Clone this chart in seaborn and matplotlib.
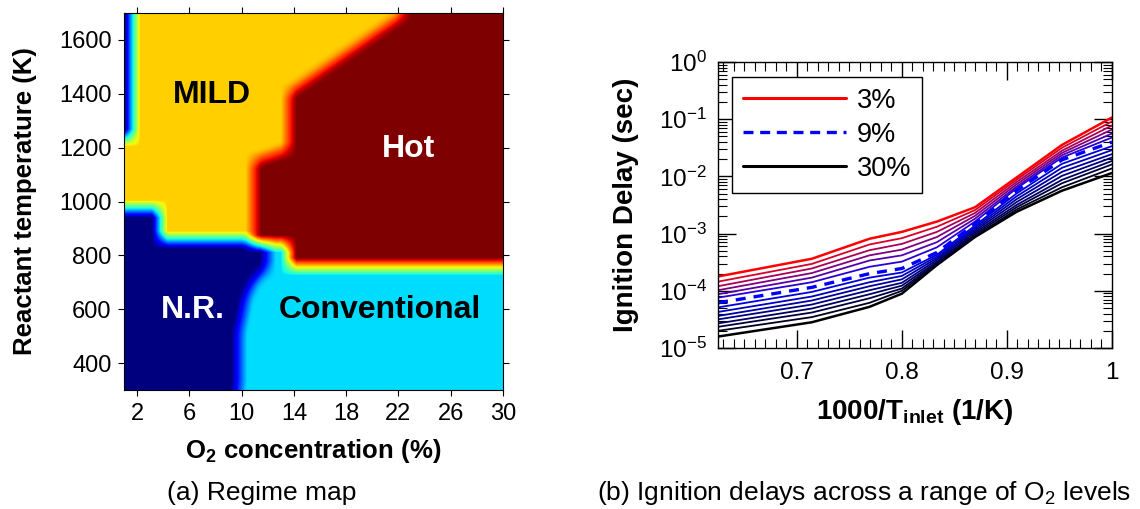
import numpy as np
import pandas as pd
import matplotlib
matplotlib.use("Agg")
import matplotlib.pyplot as plt
import seaborn as sns
from matplotlib.lines import Line2D
from matplotlib.ticker import MultipleLocator, LogLocator, NullFormatter, FuncFormatter

sns.set_style("ticks", {"axes.edgecolor": "black", "xtick.color": "black",
                        "ytick.color": "black", "text.color": "black",
                        "axes.labelcolor": "black"})
plt.rcParams["font.family"] = ["Liberation Sans", "DejaVu Sans"]
plt.rcParams["mathtext.fontset"] = "custom"
plt.rcParams["mathtext.rm"] = "Liberation Sans"
plt.rcParams["mathtext.bf"] = "Liberation Sans:bold"
plt.rcParams["mathtext.it"] = "Liberation Sans:italic"

# ---------------- (a) regime map ----------------
o2_range = (1, 30)
t_range = (300, 1700)

# ignition temperature (K) steps with O2 (%): level i holds below break i
ign_o2_breaks = [3.6, 10.6, 13.5]
ign_t_levels = [975, 860, 845, 760]
# N.R. / Conventional border below ignition: O2 (%) at each temperature
nr_t = [300, 520, 640, 700, 760, 900]
nr_o2 = [9.7, 9.8, 10.3, 10.9, 12.0, 12.0]
# MILD / Hot border above ignition: O2 (%) at each temperature
hot_t = [800, 1150, 1195, 1405, 1700]
hot_o2 = [10.9, 10.9, 13.6, 13.6, 22.4]
# thin non-reacting strip at the lowest O2 level
strip_o2 = 1.55
strip_t = 1235

regime_value = {"N.R.": 0.0, "Conventional": 0.34, "MILD": 0.69, "Hot": 1.0}

o2_grid = np.linspace(o2_range[0], o2_range[1], 291)
t_grid = np.linspace(t_range[0], t_range[1], 281)
O2, T = np.meshgrid(o2_grid, t_grid)
t_ign = np.array(ign_t_levels)[np.searchsorted(ign_o2_breaks, O2)]
nr_edge = np.interp(T, nr_t, nr_o2)
hot_edge = np.interp(T, hot_t, hot_o2)
regime = np.where(T < t_ign,
                  np.where(O2 < nr_edge, regime_value["N.R."], regime_value["Conventional"]),
                  np.where(O2 < hot_edge, regime_value["MILD"], regime_value["Hot"]))
regime = np.where((O2 < strip_o2) & (T > strip_t), regime_value["N.R."], regime)


def box_blur(a, n, axis):
    # smooth the borders the way interpolated shading does
    pad = [(0, 0), (0, 0)]
    pad[axis] = (n // 2, n - 1 - n // 2)
    ap = np.pad(a, pad, mode="edge")
    k = np.ones(n) / n
    return np.apply_along_axis(lambda m: np.convolve(m, k, mode="valid"), axis, ap)


regime_smooth = box_blur(box_blur(regime, 12, 1), 13, 0)

# ---------------- (b) ignition delays ----------------
t_inlet = [1600, 1400, 1300, 1250, 1200, 1150, 1100, 1050, 1000]
# log10 of ignition delay (s) for each O2 level (%)
log_delay_03 = [-3.75, -3.44, -3.09, -2.97, -2.79, -2.54, -2.02, -1.45, -0.97]
log_delay_04 = [-3.84, -3.53, -3.19, -3.08, -2.88, -2.59, -2.06, -1.50, -1.04]
log_delay_05 = [-3.92, -3.61, -3.29, -3.18, -2.97, -2.64, -2.10, -1.55, -1.11]
log_delay_06 = [-3.99, -3.69, -3.38, -3.28, -3.06, -2.69, -2.14, -1.59, -1.18]
log_delay_07 = [-4.06, -3.77, -3.47, -3.38, -3.15, -2.74, -2.18, -1.63, -1.25]
log_delay_08 = [-4.12, -3.85, -3.58, -3.49, -3.24, -2.79, -2.21, -1.67, -1.32]
log_delay_09 = [-4.21, -3.94, -3.70, -3.61, -3.33, -2.83, -2.25, -1.71, -1.40]
log_delay_10 = [-4.29, -4.02, -3.77, -3.68, -3.37, -2.86, -2.30, -1.78, -1.47]
log_delay_12 = [-4.37, -4.10, -3.85, -3.74, -3.40, -2.89, -2.35, -1.85, -1.54]
log_delay_14 = [-4.44, -4.17, -3.92, -3.80, -3.43, -2.92, -2.40, -1.92, -1.61]
log_delay_16 = [-4.50, -4.24, -3.99, -3.86, -3.46, -2.95, -2.45, -1.99, -1.67]
log_delay_18 = [-4.57, -4.31, -4.06, -3.91, -3.49, -2.98, -2.50, -2.06, -1.73]
log_delay_20 = [-4.63, -4.38, -4.13, -3.96, -3.51, -3.01, -2.54, -2.12, -1.79]
log_delay_25 = [-4.70, -4.46, -4.21, -4.00, -3.53, -3.04, -2.58, -2.19, -1.86]
log_delay_30 = [-4.80, -4.55, -4.28, -4.05, -3.55, -3.06, -2.62, -2.25, -1.94]

o2_series = [3, 4, 5, 6, 7, 8, 9, 10, 12, 14, 16, 18, 20, 25, 30]
log_delays = [log_delay_03, log_delay_04, log_delay_05, log_delay_06, log_delay_07,
              log_delay_08, log_delay_09, log_delay_10, log_delay_12, log_delay_14,
              log_delay_16, log_delay_18, log_delay_20, log_delay_25, log_delay_30]

rows = []
for o2, vals in zip(o2_series, log_delays):
    for t, v in zip(t_inlet, vals):
        rows.append({"o2": o2, "inv_t": 1000.0 / t, "delay": 10.0 ** v})
df = pd.DataFrame(rows)

# colours: red -> blue for 3..9 %, blue -> black for 9..30 %
red, blue, black = np.array([1, 0, 0]), np.array([0, 0, 1]), np.array([0, 0, 0])
colors = {}
low = [o for o in o2_series if o <= 9]
high = [o for o in o2_series if o >= 9]
for k, o in enumerate(low):
    f = k / (len(low) - 1)
    colors[o] = tuple((1 - f) * red + f * blue)
for k, o in enumerate(high):
    f = k / (len(high) - 1)
    colors[o] = tuple((1 - f) * blue + f * black)

# ---------------- figure ----------------
fig = plt.figure(figsize=(11.4, 5.09), dpi=100)
ax1 = fig.add_axes([124 / 1140, 1 - 390 / 509, 379 / 1140, 377 / 509])
ax2 = fig.add_axes([718 / 1140, 1 - 348 / 509, 394 / 1140, 286 / 509])

ax1.imshow(regime_smooth, origin="lower", cmap="jet", vmin=0, vmax=1, aspect="auto",
           extent=(o2_range[0], o2_range[1], t_range[0], t_range[1]),
           interpolation="bilinear", interpolation_stage="data")
ax1.set_xlim(*o2_range)
ax1.set_ylim(*t_range)
ax1.set_xticks([2, 6, 10, 14, 18, 22, 26, 30])
ax1.set_yticks([400, 600, 800, 1000, 1200, 1400, 1600])
ax1.tick_params(direction="out", length=4, width=0.8, top=True, right=True,
                labelsize=17, pad=5)
for s in ax1.spines.values():
    s.set_linewidth(0.8)
ax1.set_xlabel(r"O$_{\mathbf{2}}$ concentration (%)", fontsize=18.5, fontweight="bold")
ax1.set_ylabel("Reactant temperature (K)", fontsize=18.5, fontweight="bold")
ax1.xaxis.set_label_coords(0.5, -0.125)
ax1.yaxis.set_label_coords(-0.23, 0.5)

lab = dict(ha="center", va="center", fontsize=23, fontweight="bold")
ax1.text(7.75, 1396, "MILD", color="black", **lab)
ax1.text(22.8, 1195, "Hot", color="white", **lab)
ax1.text(6.3, 598, "N.R.", color="white", **lab)
ax1.text(20.6, 598, "Conventional", color="black", **lab)

# right panel lines
ax2.set_yscale("log")
draw_order = [4, 5, 6, 7, 8, 30, 25, 20, 18, 16, 14, 12, 10, 3, 9]
for o2 in draw_order:
    sub = df[df["o2"] == o2]
    if o2 == 9:
        sns.lineplot(data=sub, x="inv_t", y="delay", ax=ax2, color=colors[o2],
                     lw=2.4, linestyle=(0, (3.0, 2.4)))
    else:
        lw = 1.8 if o2 in (3, 30) else 1.3
        sns.lineplot(data=sub, x="inv_t", y="delay", ax=ax2, color=colors[o2], lw=lw)

ax2.set_xlim(1000 / 1600, 1.0)
ax2.set_ylim(1e-5, 1e0)
ax2.set_xticks([0.7, 0.8, 0.9, 1.0])
ax2.xaxis.set_major_formatter(FuncFormatter(lambda v, p: f"{v:g}"))
ax2.xaxis.set_minor_locator(MultipleLocator(0.01))
ax2.yaxis.set_major_locator(LogLocator(base=10, numticks=10))
ax2.yaxis.set_minor_locator(LogLocator(base=10, subs=np.arange(2, 10), numticks=10))
ax2.yaxis.set_minor_formatter(NullFormatter())
ax2.tick_params(which="major", direction="in", length=13, width=1.0, top=True, right=True,
                labelsize=17.5)
ax2.tick_params(which="minor", direction="in", length=6.5, width=0.8, top=True, right=True)
ax2.tick_params(axis="x", which="major", pad=10)
ax2.tick_params(axis="y", which="major", pad=8)
for s in ax2.spines.values():
    s.set_linewidth(1.0)
ax2.set_xlabel(r"1000/T$_{\mathbf{inlet}}$ (1/K)", fontsize=20, fontweight="bold")
ax2.set_ylabel("Ignition Delay (sec)", fontsize=20, fontweight="bold")
ax2.xaxis.set_label_coords(0.5, -0.17)
ax2.yaxis.set_label_coords(-0.20, 0.5)

handles = [Line2D([], [], color=colors[3], lw=2.2),
           Line2D([], [], color=colors[9], lw=2.4, linestyle=(0, (3.0, 2.0))),
           Line2D([], [], color=colors[30], lw=2.2)]
leg = ax2.legend(handles, ["3%", "9%", "30%"], loc="upper left",
                 bbox_to_anchor=(0.036, 0.948), borderaxespad=0, fontsize=19.5,
                 frameon=True, fancybox=False, edgecolor="black", framealpha=1,
                 handlelength=3.8, handletextpad=0.4, labelspacing=0.3,
                 borderpad=0.4)
leg.get_frame().set_linewidth(1.0)

cap = dict(ha="center", va="center", fontsize=19)
fig.text(262 / 1140, 1 - 493 / 509, "(a) Regime map", **cap)
fig.text(864 / 1140, 1 - 493 / 509, r"(b) Ignition delays across a range of O$_2$ levels", **cap)

fig.savefig("out.png", dpi=100)
